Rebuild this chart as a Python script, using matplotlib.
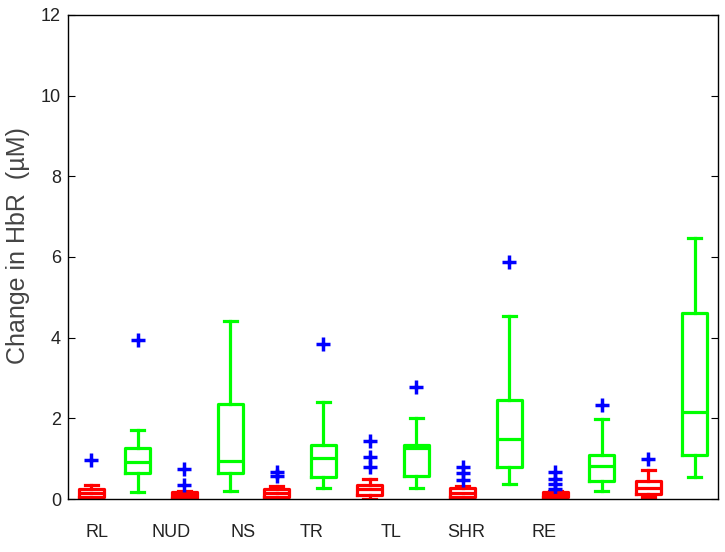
import matplotlib
matplotlib.use("Agg")
import matplotlib.pyplot as plt

plt.rcParams['font.family'] = ['Liberation Sans', 'DejaVu Sans']

# Box order: red/green pairs for each movement
categories = ["RL", "NUD", "NS", "TR", "TL", "SHR", "RE"]
whislo = [0.02, 0.17, 0.00, 0.20, 0.02, 0.27, 0.00, 0.27, 0.03, 0.37, 0.00, 0.20, 0.05, 0.55]
q1     = [0.05, 0.65, 0.03, 0.64, 0.06, 0.55, 0.10, 0.57, 0.06, 0.79, 0.05, 0.45, 0.12, 1.09]
med    = [0.15, 0.92, 0.10, 0.94, 0.14, 1.02, 0.25, 1.27, 0.15, 1.49, 0.10, 0.82, 0.27, 2.16]
q3     = [0.25, 1.27, 0.17, 2.35, 0.24, 1.34, 0.35, 1.34, 0.28, 2.46, 0.17, 1.09, 0.45, 4.62]
whishi = [0.35, 1.71, 0.20, 4.42, 0.32, 2.41, 0.50, 2.00, 0.32, 4.54, 0.20, 1.98, 0.72, 6.47]
fliers = [[0.97], [3.93], [0.74, 0.35], [], [0.68, 0.56], [3.85],
          [1.44, 1.04, 0.80], [2.78], [0.79, 0.64, 0.47], [5.88],
          [0.67, 0.50, 0.36, 0.24], [2.33], [1.00], []]
box_colors = ["red", "lime"] * 7
label_pos = [1.13, 2.71, 4.28, 5.75, 7.46, 9.08, 10.76]

fig = plt.figure(figsize=(7.25, 5.52), dpi=100)
ax = fig.add_axes([0.0938, 0.096, 0.8965, 0.877])

stats = []
for i in range(len(med)):
    stats.append(dict(whislo=whislo[i], q1=q1[i], med=med[i], q3=q3[i],
                      whishi=whishi[i], fliers=fliers[i]))

positions = list(range(1, len(stats) + 1))
for i, st in enumerate(stats):
    c = box_colors[i]
    ax.bxp([st], positions=[positions[i]], widths=0.54, capwidths=0.28,
           showfliers=True,
           boxprops=dict(color=c, linewidth=2.3),
           whiskerprops=dict(color=c, linewidth=2.3, linestyle='-'),
           capprops=dict(color=c, linewidth=2.3),
           medianprops=dict(color=c, linewidth=2.3),
           flierprops=dict(marker='+', markeredgecolor='blue', markersize=10,
                           markeredgewidth=2.5, linestyle='none'))

ax.set_xlim(0.5, 14.5)
ax.set_ylim(0, 12)
ax.set_yticks(range(0, 13, 2))
ax.set_xticks(label_pos)
ax.set_xticklabels(categories)
ax.tick_params(axis='x', length=0, pad=18, labelsize=13, labelcolor='#222222')
ax.tick_params(axis='y', direction='in', length=5, right=True, labelsize=13,
               labelcolor='#222222', pad=5)
for s in ax.spines.values():
    s.set_linewidth(1.0)
fig.text(18 / 725, 1 - 246 / 552, "Change in HbR  (\u00b5M)", rotation=90,
         ha='center', va='center', fontsize=18, color='#444444')

fig.savefig("out.png", dpi=100)
